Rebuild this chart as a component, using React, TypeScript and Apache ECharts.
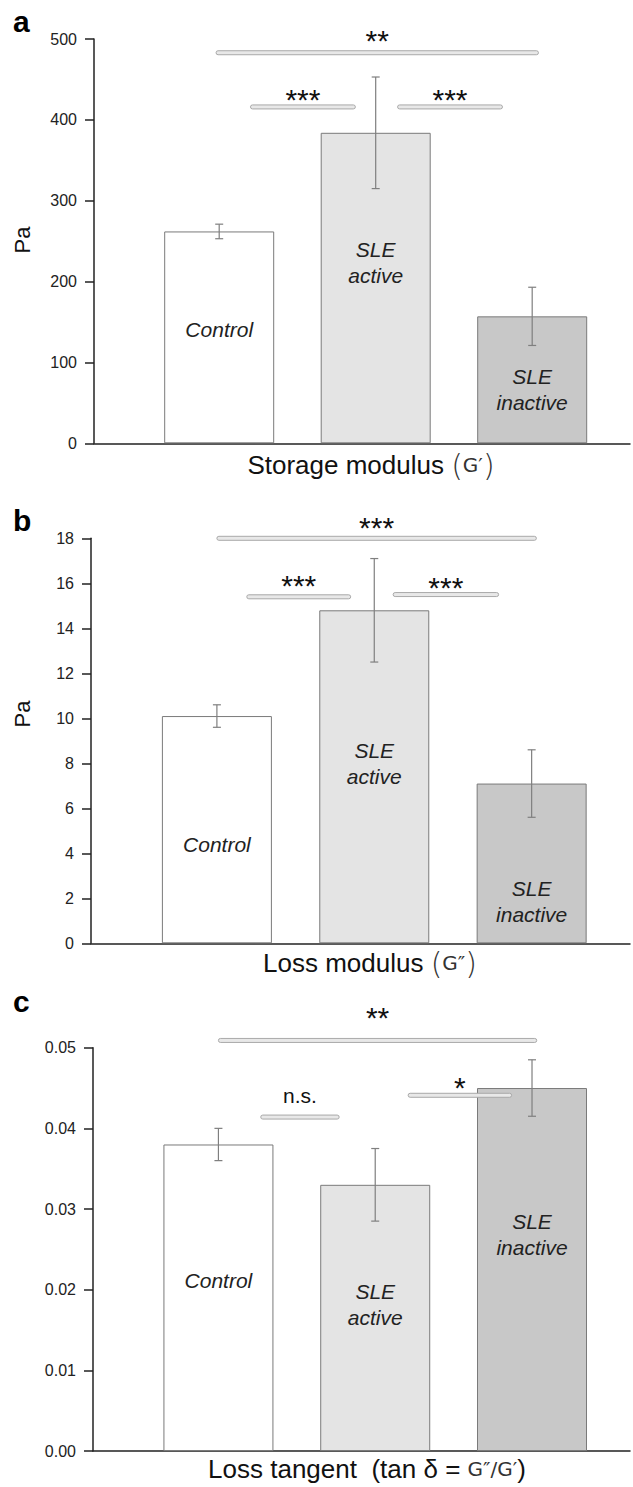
import React, { useEffect, useRef } from 'react';
import * as echarts from 'echarts';

// ---------- data ----------
const categories = ['Control', 'SLE active', 'SLE inactive'];
const barLabels = ['Control', 'SLE\nactive', 'SLE\ninactive'];
const barColors = ['#ffffff', '#e4e4e4', '#c8c8c8'];

// panel a: storage modulus G' (Pa)
const storageMean = [262, 384, 157];
const storageErr = [9, 69, 36];
// panel b: loss modulus G'' (Pa)
const lossMean = [10.1, 14.8, 7.1];
const lossErr = [0.5, 2.3, 1.5];
// panel c: loss tangent
const tanMean = [0.038, 0.033, 0.045];
const tanErr = [0.002, 0.0045, 0.0035];

// y axis ranges [min, max, interval]
const yRangeA = [0, 500, 100];
const yRangeB = [0, 18, 2];
const yRangeC = [0, 0.05, 0.01];

// significance annotations: [xStart, xEnd, lineValue, textValue, text]
const sigA: [number, number, number, number, string][] = [
  [-0.02, 2.04, 483, 503, '**'],
  [0.2, 0.87, 416, 430, '***'],
  [1.14, 1.81, 416, 430, '***'],
];
const sigB: [number, number, number, number, string][] = [
  [0.0, 2.03, 18.0, 18.68, '***'],
  [0.19, 0.85, 15.4, 16.06, '***'],
  [1.12, 1.79, 15.5, 16.01, '***'],
];
const sigC: [number, number, number, number, string][] = [
  [0.0, 2.03, 0.0509, 0.0543, '**'],
  [0.27, 0.77, 0.0414, 0.0441, 'n.s.'],
  [1.21, 1.87, 0.0441, 0.0456, '*'],
];

// label anchor values inside bars (data units of each panel)
const labelYA = [141, 224, 66];
const labelYB = [4.37, 7.97, 1.84];
const labelYC = [0.0212, 0.0182, 0.0268];

const FONT = '"Liberation Sans", Arial, sans-serif';

const grids = [
  { left: 94, top: 39, width: 536, height: 404.3 },
  { left: 91, top: 538.3, width: 539, height: 405 },
  { left: 93, top: 1047.7, width: 537, height: 403.3 },
];

export default function App() {
  const ref = useRef<HTMLDivElement>(null);
  useEffect(() => {
    if (!ref.current) return;
    const chart = echarts.init(ref.current, null, { renderer: 'svg' });
    const panels = [
      { mean: storageMean, err: storageErr, range: yRangeA, sig: sigA, ly: labelYA, fmt: (v: number) => String(v) },
      { mean: lossMean, err: lossErr, range: yRangeB, sig: sigB, ly: labelYB, fmt: (v: number) => String(v) },
      { mean: tanMean, err: tanErr, range: yRangeC, sig: sigC, ly: labelYC, fmt: (v: number) => v.toFixed(2) },
    ];
    const axisColor = '#222';
    const xAxis: any[] = [];
    const yAxis: any[] = [];
    const series: any[] = [];
    panels.forEach((p, i) => {
      xAxis.push({
        type: 'value', gridIndex: i, min: -0.8, max: 2.625,
        axisLine: { show: true, onZero: false, lineStyle: { color: axisColor, width: 1.5 } },
        axisTick: { show: false }, axisLabel: { show: false }, splitLine: { show: false },
      });
      yAxis.push({
        type: 'value', gridIndex: i, min: p.range[0], max: p.range[1], interval: p.range[2],
        axisLine: { show: true, onZero: false, lineStyle: { color: axisColor, width: 1.5 } },
        axisTick: { show: true, length: 9, lineStyle: { color: axisColor, width: 1.5 } },
        axisLabel: { color: '#222', fontSize: 16, fontFamily: FONT, margin: 17, formatter: p.fmt },
        splitLine: { show: false },
      });
      series.push({
        type: 'bar', xAxisIndex: i, yAxisIndex: i, barWidth: 110, z: 2,
        itemStyle: { borderColor: '#7a7a7a', borderWidth: 1 },
        data: p.mean.map((m, j) => ({ name: categories[j], value: [j, m], itemStyle: { color: barColors[j] } })),
      });
      series.push({
        type: 'custom', xAxisIndex: i, yAxisIndex: i, z: 5,
        data: p.mean.map((m, j) => [j, m, p.err[j]]),
        renderItem: (params: any, api: any) => {
          const x = api.value(0), m = api.value(1), e = api.value(2);
          const t = api.coord([x, m + e]);
          const b = api.coord([x, m - e]);
          const st = { stroke: '#7f7f7f', lineWidth: 1.2 };
          const cw = 4;
          return {
            type: 'group', children: [
              { type: 'line', shape: { x1: t[0], y1: t[1], x2: b[0], y2: b[1] }, style: st },
              { type: 'line', shape: { x1: t[0] - cw, y1: t[1], x2: t[0] + cw, y2: t[1] }, style: st },
              { type: 'line', shape: { x1: b[0] - cw, y1: b[1], x2: b[0] + cw, y2: b[1] }, style: st },
            ],
          };
        },
      });
      series.push({
        type: 'custom', xAxisIndex: i, yAxisIndex: i, z: 6,
        data: p.ly.map((v, j) => [j, v]),
        renderItem: (params: any, api: any) => {
          const c = api.coord([api.value(0), api.value(1)]);
          return {
            type: 'text', x: c[0], y: c[1],
            style: {
              text: barLabels[params.dataIndex], fill: '#222', fontStyle: 'italic', fontSize: 21,
              fontFamily: FONT, align: 'center', verticalAlign: 'middle', lineHeight: 26,
            },
          };
        },
      });
      series.push({
        type: 'custom', xAxisIndex: i, yAxisIndex: i, z: 6, clip: false,
        data: p.sig.map((s) => [s[0], s[1], s[2], s[3]]),
        renderItem: (params: any, api: any) => {
          const s = p.sig[params.dataIndex];
          const a = api.coord([s[0], s[2]]);
          const b = api.coord([s[1], s[2]]);
          const tc = api.coord([(s[0] + s[1]) / 2, s[3]]);
          const isStar = s[4].indexOf('*') >= 0;
          return {
            type: 'group', children: [
              { type: 'rect', shape: { x: a[0], y: a[1] - 2, width: b[0] - a[0], height: 4, r: 2 },
                style: { fill: '#e8e8e8', stroke: '#a9a9a9', lineWidth: 1 } },
              { type: 'text', x: tc[0], y: tc[1] + (isStar ? 4 : 0),
                style: { text: s[4], fill: '#111', fontSize: isStar ? 30 : 21, fontFamily: FONT,
                  align: 'center', verticalAlign: 'middle' } },
            ],
          };
        },
      });
    });

    const gFont = '"DejaVu Sans", sans-serif';
    const titleRich = {
      m: { fontSize: 26, fontFamily: FONT, fill: '#111', color: '#111' },
      g: { fontSize: 20, fontFamily: gFont, fill: '#333', color: '#333' },
      p: { fontSize: 30, fontFamily: gFont, fill: '#333', color: '#333', fontWeight: 200 },
    };
    const graphic: any[] = [
      { type: 'text', x: 13, y: 36, style: { text: 'a', font: `bold 30px ${FONT}`, fill: '#000', verticalAlign: 'bottom' } },
      { type: 'text', x: 13, y: 535, style: { text: 'b', font: `bold 30px ${FONT}`, fill: '#000', verticalAlign: 'bottom' } },
      { type: 'text', x: 13, y: 1016, style: { text: 'c', font: `bold 30px ${FONT}`, fill: '#000', verticalAlign: 'bottom' } },
      { type: 'text', x: 22, y: 240, rotation: Math.PI / 2,
        style: { text: 'Pa', font: `22px ${FONT}`, fill: '#111', align: 'center', verticalAlign: 'middle' } },
      { type: 'text', x: 22, y: 714, rotation: Math.PI / 2,
        style: { text: 'Pa', font: `22px ${FONT}`, fill: '#111', align: 'center', verticalAlign: 'middle' } },
      { type: 'text', x: 371, y: 465,
        style: { text: '{m|Storage modulus }{p|(}{g|G\u2032}{p|)}', rich: titleRich, align: 'center', verticalAlign: 'middle' } },
      { type: 'text', x: 370, y: 963,
        style: { text: '{m|Loss modulus }{p|(}{g|G\u2033}{p|)}', rich: titleRich, align: 'center', verticalAlign: 'middle' } },
      { type: 'text', x: 367, y: 1469,
        style: { text: '{m|Loss tangent  (tan \u03b4 = }{g|G\u2033/G\u2032}{m|)}', rich: titleRich, align: 'center', verticalAlign: 'middle' } },
    ];

    chart.setOption({
      animation: false,
      backgroundColor: '#ffffff',
      grid: grids,
      xAxis, yAxis, series, graphic,
    });
    return () => chart.dispose();
  }, []);
  return <div ref={ref} style={{ position: 'fixed', left: 0, top: 0, width: 633, height: 1487, background: '#fff' }} />;
}
